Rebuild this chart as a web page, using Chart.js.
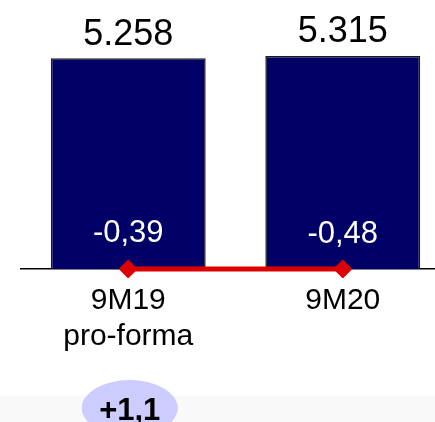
<!DOCTYPE html>
<html>
<head>
<meta charset="utf-8">
<script src="https://cdn.jsdelivr.net/npm/chart.js@4/dist/chart.umd.min.js"></script>
<style>
  html, body { margin: 0; padding: 0; background: #ffffff; overflow: hidden; width: 435px; height: 422px; }
  #wrap { position: relative; width: 460px; height: 422px; }
</style>
</head>
<body>
<div id="wrap"><canvas id="c"></canvas></div>
<script>
// ---- data ----
const categories = [['9M19', 'pro-forma'], '9M20'];
const revenue = [5258, 5315];
const margins = [-0.39, -0.48];
const marginLine = [0, 0];
const deltaLabel = '+1,1';

const FONT = '"Liberation Sans", Arial, Helvetica, sans-serif';

function fmtThousands(v) { return String(v).replace(/\B(?=(\d{3})+(?!\d))/g, '.'); }
function fmtDecimal(v) { return v.toFixed(2).replace('.', ','); }

const decorPlugin = {
  id: 'decor',
  beforeDraw(chart) {
    const ctx = chart.ctx;
    ctx.save();
    ctx.fillStyle = '#f9f9f9';
    ctx.fillRect(0, 396, chart.width, chart.height - 396);
    ctx.restore();
  },
  afterDatasetsDraw(chart) {
    const ctx = chart.ctx;
    const barMeta = chart.getDatasetMeta(1);
    const xScale = chart.scales.x;
    const yScale = chart.scales.y;
    ctx.save();
    ctx.textAlign = 'center';
    ctx.textBaseline = 'alphabetic';
    // value labels above bars
    ctx.fillStyle = '#000000';
    ctx.font = '36px ' + FONT;
    barMeta.data.forEach((bar, i) => {
      ctx.fillText(fmtThousands(revenue[i]), bar.x, bar.y - 13.5);
    });
    // margin labels inside bars
    ctx.fillStyle = '#ffffff';
    ctx.font = '31px ' + FONT;
    const base = yScale.getPixelForValue(0);
    barMeta.data.forEach((bar, i) => {
      ctx.fillText(fmtDecimal(margins[i]), bar.x, base - 27.5 + i * 1.5);
    });
    // delta ellipse
    const ex = xScale.getPixelForValue(0) + 1.5;
    ctx.fillStyle = '#ccccff';
    ctx.beginPath();
    ctx.ellipse(ex, 408, 48, 28, 0, 0, Math.PI * 2);
    ctx.fill();
    ctx.fillStyle = '#000000';
    ctx.font = 'bold 31px ' + FONT;
    ctx.fillText(deltaLabel, ex, 420);
    ctx.restore();
  }
};

new Chart(document.getElementById('c'), {
  data: {
    labels: categories,
    datasets: [
      {
        type: 'line',
        data: marginLine,
        order: 0,
        borderColor: '#dd0000',
        borderWidth: 5,
        backgroundColor: '#dd0000',
        pointStyle: 'rectRot',
        pointRadius: 9,
        pointHoverRadius: 9,
        pointBackgroundColor: '#dd0000',
        pointBorderColor: '#dd0000',
        pointBorderWidth: 1,
        clip: false,
        tension: 0
      },
      {
        type: 'bar',
        data: revenue,
        order: 1,
        backgroundColor: '#000066',
        borderColor: '#1a1a1a',
        borderWidth: 1.5,
        barPercentage: 0.722,
        categoryPercentage: 1
      }
    ]
  },
  options: {
    responsive: true,
    maintainAspectRatio: false,
    animation: false,
    events: [],
    layout: { padding: { left: 21, right: 7, top: 28.5, bottom: 53 } },
    plugins: { legend: { display: false }, tooltip: { enabled: false } },
    scales: {
      x: {
        offset: true,
        grid: { display: false, drawTicks: false },
        border: { display: true, color: '#000000', width: 1.5 },
        ticks: {
          color: '#000000',
          padding: 14,
          maxRotation: 0,
          autoSkip: false,
          font: { family: FONT, size: 30, lineHeight: 1.2 }
        }
      },
      y: {
        display: false,
        min: 0,
        max: 6000
      }
    }
  },
  plugins: [decorPlugin]
});
</script>
</body>
</html>
